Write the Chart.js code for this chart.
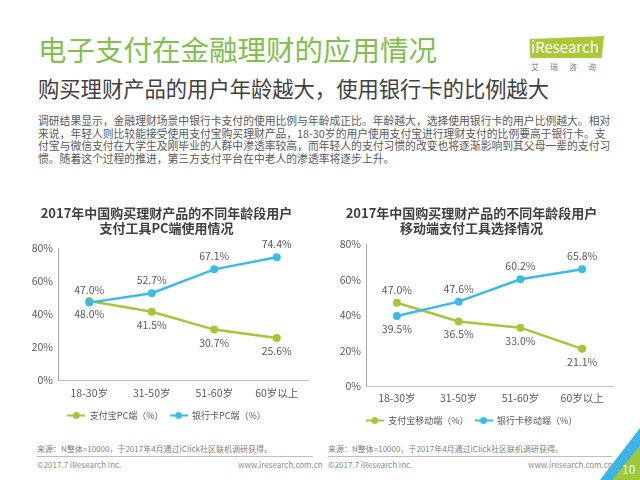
<!DOCTYPE html>
<html>
<head>
<meta charset="utf-8">
<script src="https://cdn.jsdelivr.net/npm/chart.js@4"></script>
<style>
  body { margin: 0; }
  .page { position: relative; width: 640px; height: 480px; background: #fff; overflow: hidden;
          font-family: "Noto Sans CJK SC", sans-serif; }
  .abs { position: absolute; white-space: nowrap; }
  .title { left: 38px; top: 35px; font-size: 28.5px; line-height: 28px; color: #80c04c; }
  .subtitle { left: 38px; top: 77px; font-size: 21.3px; line-height: 21px; color: #404040; }
  .para { left: 38px; top: 114px; font-size: 10.8px; line-height: 12.7px; color: #595959; }
  .logo { left: 528px; top: 36px; width: 76px; height: 22px; background: #a9c83a;
          clip-path: polygon(2% 14%, 100% 0, 97% 100%, 3% 100%); }
  .logo span { position: absolute; left: 3px; top: 2px; font-size: 15px; line-height: 18px; color: #fff; }
  .logo-cn { left: 531px; top: 61px; font-size: 8px; color: #7f7f7f; letter-spacing: 11px; }
  .src { top: 443px; font-size: 8px; color: #7f7f7f; }
  .rule { top: 456px; height: 1px; background: #bfbfbf; }
  .foot { top: 459px; font-size: 8px; color: #8c8c8c; }
  canvas { position: absolute; }
  .corner-b { left: 600px; top: 428px; width: 40px; height: 52px; background: #3cb5e5;
              clip-path: polygon(0 100%, 100% 0, 100% 100%); }
  .corner-g { left: 612px; top: 446px; width: 28px; height: 34px; background: #9cc83a;
              clip-path: polygon(0 100%, 100% 0, 100% 100%); }
  .pageno { left: 622px; top: 462px; font-size: 12px; line-height: 14px; color: #fff; }
</style>
</head>
<body>
<div class="page">
  <div class="abs title">电子支付在金融理财的应用情况</div>
  <div class="abs subtitle">购买理财产品的用户年龄越大，使用银行卡的比例越大</div>
  <div class="abs para">
    <div>调研结果显示，金融理财场景中银行卡支付的使用比例与年龄成正比。年龄越大，选择使用银行卡的用户比例越大。相对</div>
    <div>来说，年轻人则比较能接受使用支付宝购买理财产品，18-30岁的用户使用支付宝进行理财支付的比例要高于银行卡。支</div>
    <div>付宝与微信支付在大学生及刚毕业的人群中渗透率较高，而年轻人的支付习惯的改变也将逐渐影响到其父母一辈的支付习</div>
    <div>惯。随着这个过程的推进，第三方支付平台在中老人的渗透率将逐步上升。</div>
  </div>
  <div class="abs logo"><span>iResearch</span></div>
  <div class="abs logo-cn">艾瑞咨询</div>

  <canvas id="pcChart" width="300" height="232" style="left:25px;top:198px;"></canvas>
  <canvas id="mobileChart" width="300" height="237" style="left:330px;top:198px;"></canvas>

  <div class="abs src" style="left:37px;">来源：N整体=10000，于2017年4月通过iClick社区联机调研获得。</div>
  <div class="abs rule" style="left:37px;width:276px;"></div>
  <div class="abs foot" style="left:37px;">©2017.7 iResearch Inc.</div>
  <div class="abs foot" style="left:238px;">www.iresearch.com.cn</div>

  <div class="abs src" style="left:328px;">来源：N整体=10000，于2017年4月通过iClick社区联机调研获得。</div>
  <div class="abs rule" style="left:328px;width:284px;"></div>
  <div class="abs foot" style="left:328px;">©2017.7 iResearch Inc.</div>
  <div class="abs foot" style="left:528px;">www.iresearch.com.cn</div>

  <div class="abs corner-b"></div>
  <div class="abs corner-g"></div>
  <div class="abs pageno">10</div>
</div>

<script>
const ageGroups = ["18-30岁", "31-50岁", "51-60岁", "60岁以上"];
const pcAlipay = [48.0, 41.5, 30.7, 25.6];
const pcBankCard = [47.0, 52.7, 67.1, 74.4];
const mobileAlipay = [47.0, 36.5, 33.0, 21.1];
const mobileBankCard = [39.5, 47.6, 60.2, 65.8];
const yTicks = [0, 20, 40, 60, 80];

const green = "#a6c63a";
const blue = "#3bbbe6";
const textGray = "#595959";

Chart.defaults.font.family = '"Noto Sans CJK SC", sans-serif';
Chart.defaults.color = textGray;

// little "—●—" marker for the legend
function legendMarker(color) {
  const c = document.createElement("canvas");
  c.width = 18;
  c.height = 9;
  const g = c.getContext("2d");
  g.strokeStyle = color;
  g.lineWidth = 2;
  g.beginPath();
  g.moveTo(0, 4.5);
  g.lineTo(18, 4.5);
  g.stroke();
  g.fillStyle = color;
  g.beginPath();
  g.arc(9, 4.5, 3.5, 0, Math.PI * 2);
  g.fill();
  return c;
}

// value labels above / below each point
const valueLabels = {
  id: "valueLabels",
  afterDatasetsDraw(chart) {
    const ctx = chart.ctx;
    ctx.save();
    ctx.font = '10.5px "Noto Sans CJK SC"';
    ctx.fillStyle = textGray;
    ctx.textAlign = "center";
    ctx.textBaseline = "middle";
    chart.data.datasets.forEach((ds, i) => {
      chart.getDatasetMeta(i).data.forEach((pt, j) => {
        const dy = ds.labelSide[j] === "above" ? -13 : 13;
        ctx.fillText(ds.data[j].toFixed(1) + "%", pt.x, pt.y + dy);
      });
    });
    ctx.restore();
  },
};

function makeChart(id, titleLines, alipayName, bankName, alipayData, bankData, sides, opts) {
  new Chart(document.getElementById(id), {
    type: "line",
    data: {
      labels: ageGroups,
      datasets: [
        {
          label: alipayName,
          data: alipayData,
          borderColor: green,
          backgroundColor: green,
          borderWidth: 2.5,
          pointRadius: 4,
          pointBorderWidth: 0,
          order: 1,
          labelSide: sides.alipay,
        },
        {
          label: bankName,
          data: bankData,
          borderColor: blue,
          backgroundColor: blue,
          borderWidth: 2.5,
          pointRadius: 4,
          pointBorderWidth: 0,
          order: 0,
          labelSide: sides.bank,
        },
      ],
    },
    options: {
      responsive: false,
      animation: false,
      layout: { padding: { left: 0, right: 17, top: 0, bottom: 0 } },
      scales: {
        x: {
          offset: true,
          grid: { display: false, drawTicks: false },
          border: { color: "#bfbfbf", width: 1 },
          ticks: { padding: opts.xPad, font: { size: 10.5 }, color: textGray },
        },
        y: {
          min: 0,
          max: 80,
          afterFit(scale) {
            scale.width = opts.yWidth;
          },
          afterBuildTicks(scale) {
            scale.ticks = yTicks.map((v) => ({ value: v }));
          },
          grid: { display: false, drawTicks: false },
          border: { color: "#a6a6a6", width: 1 },
          ticks: {
            padding: 5,
            font: { size: 10.5 },
            color: textGray,
            callback: (v) => v + "%",
          },
        },
      },
      plugins: {
        title: {
          display: true,
          text: titleLines,
          color: "#404040",
          font: { size: 13, weight: "bold", lineHeight: 1.15 },
          padding: { top: 7.5, bottom: opts.titleBottom },
        },
        legend: {
          position: "bottom",
          labels: {
            usePointStyle: true,
            pointStyleWidth: 18,
            padding: 6,
            color: textGray,
            font: { size: 9 },
            generateLabels(chart) {
              return chart.data.datasets.map((ds, i) => ({
                text: ds.label,
                datasetIndex: i,
                fontColor: textGray,
                pointStyle: legendMarker(ds.borderColor),
                fillStyle: ds.borderColor,
                strokeStyle: ds.borderColor,
                lineWidth: 0,
              }));
            },
          },
        },
        tooltip: { enabled: false },
      },
    },
    plugins: [valueLabels],
  });
}

makeChart(
  "pcChart",
  ["2017年中国购买理财产品的不同年龄段用户", "支付工具PC端使用情况"],
  "支付宝PC端（%）",
  "银行卡PC端（%）",
  pcAlipay,
  pcBankCard,
  {
    alipay: ["below", "below", "below", "below"],
    bank: ["above", "above", "above", "above"],
  },
  { yWidth: 33, titleBottom: 12.6, xPad: 6 }
);

makeChart(
  "mobileChart",
  ["2017年中国购买理财产品的不同年龄段用户", "移动端支付工具选择情况"],
  "支付宝移动端（%）",
  "银行卡移动端（%）",
  mobileAlipay,
  mobileBankCard,
  {
    alipay: ["above", "below", "below", "below"],
    bank: ["below", "above", "above", "above"],
  },
  { yWidth: 36, titleBottom: 8.6, xPad: 5.5 }
);
</script>
</body>
</html>
